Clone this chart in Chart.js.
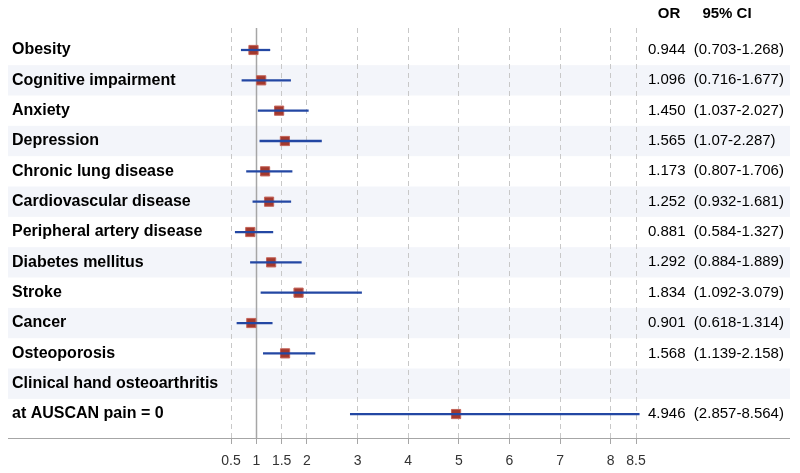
<!DOCTYPE html>
<html>
<head>
<meta charset="utf-8">
<script src="https://cdn.jsdelivr.net/npm/chart.js@4"></script>
<style>
  html, body { margin: 0; padding: 0; background: #fff; }
  #wrap { width: 800px; height: 473px; }
</style>
</head>
<body>
<div id="wrap"><canvas id="forest"></canvas></div>
<script>
const categories = ['Obesity', 'Cognitive impairment', 'Anxiety', 'Depression', 'Chronic lung disease',
    'Cardiovascular disease', 'Peripheral artery disease', 'Diabetes mellitus', 'Stroke', 'Cancer',
    'Osteoporosis', 'Clinical hand osteoarthritis', 'at AUSCAN pain = 0'];
const oddsRatio = [0.944, 1.096, 1.450, 1.565, 1.173, 1.252, 0.881, 1.292, 1.834, 0.901, 1.568, null, 4.946];
const ciLow = [0.703, 0.716, 1.037, 1.07, 0.807, 0.932, 0.584, 0.884, 1.092, 0.618, 1.139, null, 2.857];
const ciHigh = [1.268, 1.677, 2.027, 2.287, 1.706, 1.681, 1.327, 1.889, 3.079, 1.314, 2.158, null, 8.564];
const orText = ['0.944', '1.096', '1.450', '1.565', '1.173', '1.252', '0.881', '1.292', '1.834', '0.901', '1.568', '', '4.946'];
const ciText = ['(0.703-1.268)', '(0.716-1.677)', '(1.037-2.027)', '(1.07-2.287)', '(0.807-1.706)', '(0.932-1.681)',
    '(0.584-1.327)', '(0.884-1.889)', '(1.092-3.079)', '(0.618-1.314)', '(1.139-2.158)', '', '(2.857-8.564)'];
const xTicks = [0.5, 1, 1.5, 2, 3, 4, 5, 6, 7, 8, 8.5];
const refValue = 1;

const rowIdx = categories.map((_, i) => i);
const yMin = -0.725, yMax = 12.79;
const FONT = '"Liberation Sans", Arial, sans-serif';

const forestDecor = {
    id: 'forestDecor',
    beforeDraw(chart) {
        const { ctx } = chart;
        const y = chart.scales.y;
        ctx.save();
        ctx.fillStyle = '#fff';
        ctx.fillRect(0, 0, chart.width, chart.height);
        ctx.fillStyle = '#f3f5fa';
        rowIdx.forEach(i => {
            if (i % 2 === 1) {
                const t = y.getPixelForValue(i - 0.5);
                const b = y.getPixelForValue(i + 0.5);
                ctx.fillRect(8, t, 782, b - t);
            }
        });
        ctx.restore();
    },
    beforeDatasetsDraw(chart) {
        const { ctx, chartArea } = chart;
        const x = chart.scales.x;
        ctx.save();
        const px = Math.round(x.getPixelForValue(refValue)) + 0.5;
        ctx.strokeStyle = '#a6a6a6';
        ctx.lineWidth = 1.5;
        ctx.beginPath();
        ctx.moveTo(px, chartArea.top);
        ctx.lineTo(px, chartArea.bottom);
        ctx.stroke();
        ctx.lineWidth = 1;
        ctx.beginPath();
        ctx.moveTo(8, chartArea.bottom + 0.5);
        ctx.lineTo(790, chartArea.bottom + 0.5);
        ctx.stroke();
        ctx.fillStyle = '#000';
        ctx.font = 'bold 15px ' + FONT;
        ctx.textAlign = 'center';
        ctx.textBaseline = 'middle';
        ctx.fillText('OR', 669, 14);
        ctx.fillText('95% CI', 727, 14);
        ctx.restore();
    }
};

new Chart(document.getElementById('forest'), {
    type: 'bar',
    data: {
        datasets: [{
            type: 'bar',
            indexAxis: 'y',
            data: rowIdx.filter(i => ciLow[i] !== null).map(i => ({ y: i, x: [ciLow[i], ciHigh[i]] })),
            backgroundColor: '#2347a3',
            borderWidth: 0,
            borderSkipped: false,
            barThickness: 1.6,
            clip: false,
            xAxisID: 'x',
            yAxisID: 'y'
        }, {
            type: 'scatter',
            data: rowIdx.filter(i => oddsRatio[i] !== null).map(i => ({ x: oddsRatio[i], y: i })),
            pointStyle: 'rect',
            pointRadius: 6.5,
            backgroundColor: '#a3392d',
            borderColor: '#c4645a',
            borderWidth: 1,
            clip: false,
            xAxisID: 'x',
            yAxisID: 'y'
        }]
    },
    options: {
        responsive: true,
        maintainAspectRatio: false,
        animation: false,
        events: [],
        layout: { padding: { top: 28, left: 12, right: 0, bottom: 0 } },
        plugins: { legend: { display: false }, tooltip: { enabled: false } },
        scales: {
            x: {
                type: 'linear',
                position: 'bottom',
                offset: false,
                beginAtZero: false,
                min: 0.5,
                max: 8.5,
                afterBuildTicks: s => { s.ticks = xTicks.map(v => ({ value: v })); },
                afterFit: s => { s.height = 35; s.paddingLeft = 0; s.paddingRight = 0; },
                ticks: {
                    color: '#333',
                    padding: 9,
                    font: { family: FONT, size: 14 },
                    callback: v => String(v)
                },
                grid: {
                    offset: false,
                    color: '#c8c8c8',
                    lineWidth: 1,
                    tickLength: 6,
                    tickColor: '#a6a6a6',
                    drawTicks: true
                },
                border: { display: false, dash: [5, 4] }
            },
            y: {
                type: 'linear',
                position: 'left',
                offset: false,
                beginAtZero: false,
                reverse: true,
                min: yMin,
                max: yMax,
                afterBuildTicks: s => { s.ticks = rowIdx.map(v => ({ value: v })); },
                afterFit: s => { s.width = 219; s.paddingTop = 0; s.paddingBottom = 0; },
                ticks: {
                    crossAlign: 'far',
                    color: '#000',
                    font: { family: FONT, size: 16, weight: 'bold' },
                    callback: v => categories[v]
                },
                grid: { display: false, offset: false },
                border: { display: false }
            },
            y2: {
                type: 'linear',
                position: 'right',
                offset: false,
                beginAtZero: false,
                reverse: true,
                min: yMin,
                max: yMax,
                afterBuildTicks: s => { s.ticks = rowIdx.map(v => ({ value: v })); },
                afterFit: s => { s.width = 164; s.paddingTop = 0; s.paddingBottom = 0; },
                ticks: {
                    crossAlign: 'near',
                    padding: 12,
                    color: '#000',
                    font: { family: FONT, size: 15 },
                    callback: v => orText[v] ? orText[v] + '  ' + ciText[v] : ''
                },
                grid: { display: false, drawTicks: false, offset: false },
                border: { display: false }
            }
        }
    },
    plugins: [forestDecor]
});
</script>
</body>
</html>
